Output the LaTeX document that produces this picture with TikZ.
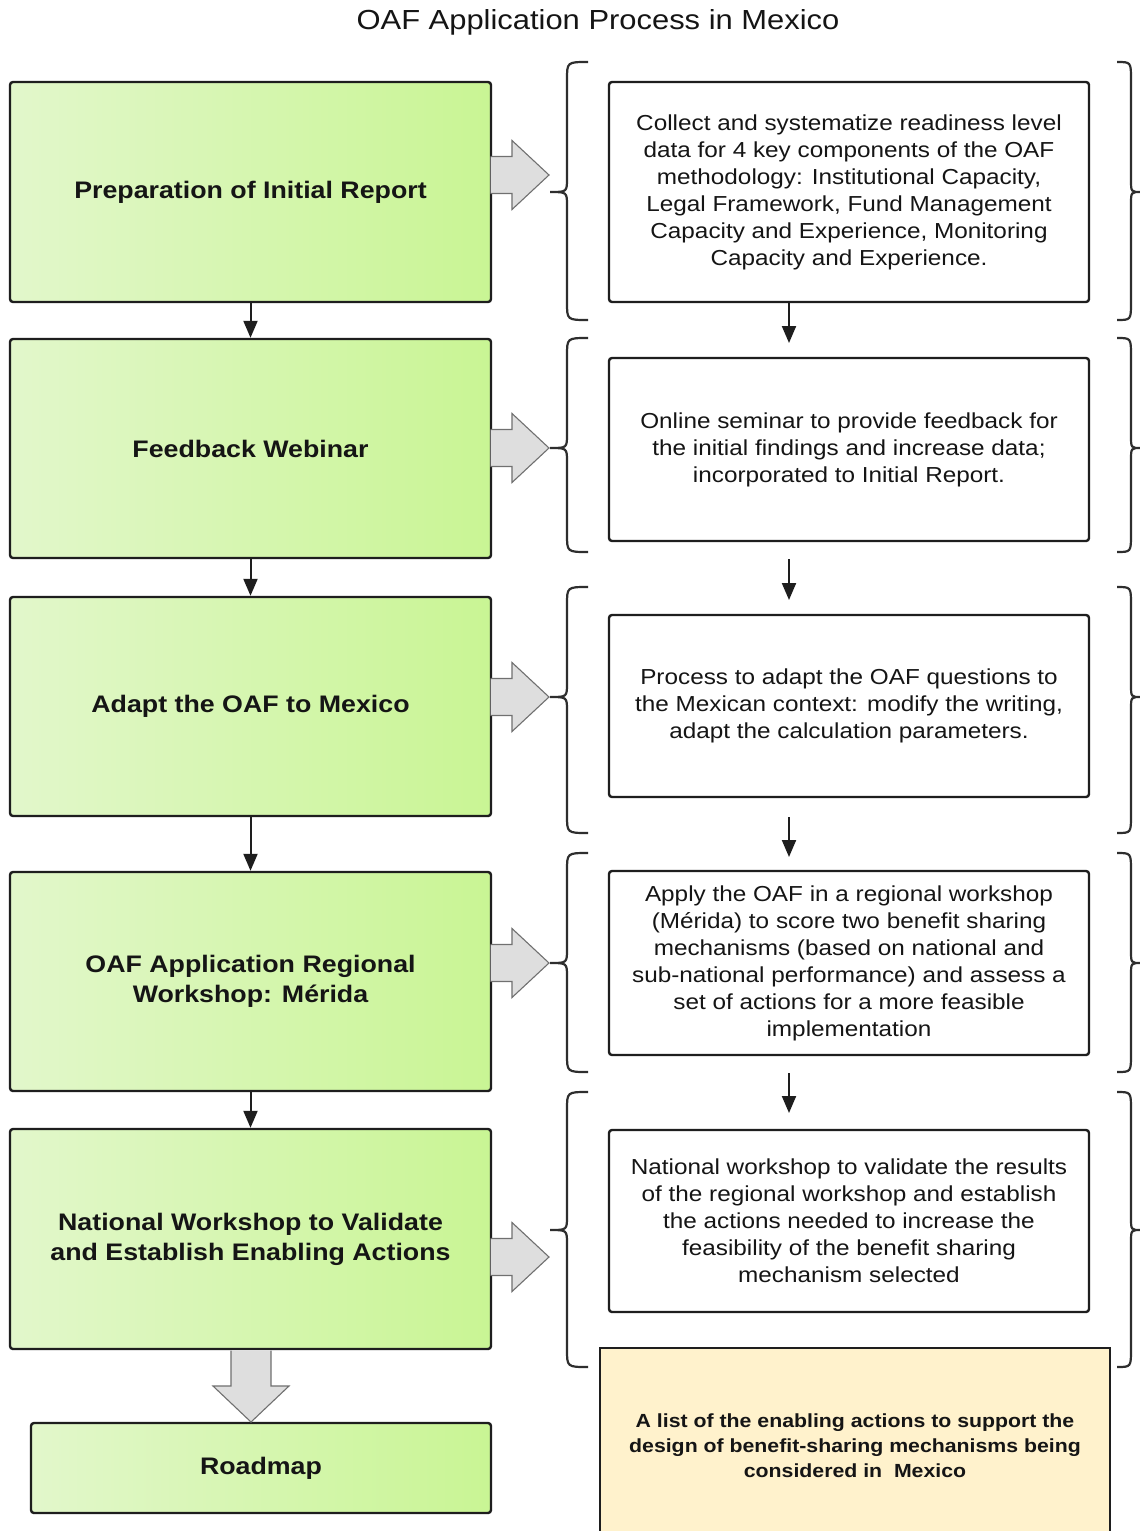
\documentclass[tikz,border=0pt]{standalone}
\usepackage{fontspec}
\setmainfont{Liberation Sans}[FakeStretch=1.12]
\usetikzlibrary{arrows.meta}
\definecolor{gL}{HTML}{E2F7CB}
\definecolor{gR}{HTML}{C9F594}
\definecolor{edge}{HTML}{1E1E1E}
\definecolor{txt}{HTML}{151515}
\definecolor{agray}{HTML}{DEDEDE}
\definecolor{astroke}{HTML}{707070}
\definecolor{ylw}{HTML}{FFF2CC}
\definecolor{brc}{HTML}{2E2E2E}
\begin{document}
\begin{tikzpicture}[x=1pt,y=-1pt,
  greenbox/.style={draw=edge, line width=2.4pt, rounded corners=3pt, left color=gL, right color=gR,
    font=\fontsize{23.9}{30}\selectfont\bfseries, align=center, text=txt, inner sep=0pt},
  whitebox/.style={draw=edge, line width=2.4pt, rounded corners=3pt, fill=white,
    font=\fontsize{21.7}{27}\selectfont, align=center, text=txt, inner sep=0pt, minimum width=480pt},
  ylwbox/.style={draw=edge, line width=1.6pt, fill=ylw,
    font=\fontsize{19}{25}\selectfont\bfseries, align=center, text=txt, inner sep=0pt},
  flow/.style={draw=edge, line width=2pt, -{Triangle[length=17pt,width=14pt]}},
  barrow/.style={draw=astroke, line width=1.1pt, fill=agray, line join=miter},
  brace/.style={draw=brc, line width=2.2pt}
]
\clip (0,0) rectangle (1140,1531);
\fill[white] (0,0) rectangle (1140,1531);

% title
\node[font=\fontsize{27.6}{32}\selectfont, text=txt] (title) at (598,22) {OAF Application Process in Mexico};

% braces
\foreach \ta/\tt/\tb in {62/192/320, 338/448/552, 587/697/833, 853/963/1072, 1092/1230/1367}{
  \draw[brace] (588,\ta) .. controls (567,\ta) .. (567,\ta+18) -- (567,\tt-14)
     .. controls (567,\tt) .. (550,\tt) .. controls (567,\tt) .. (567,\tt+14)
     -- (567,\tb-18) .. controls (567,\tb) .. (588,\tb);
  \draw[brace] (1117,\ta) .. controls (1131,\ta) .. (1131,\ta+18) -- (1131,\tt-12)
     .. controls (1131,\tt) .. (1141,\tt) .. controls (1131,\tt) .. (1131,\tt+12)
     -- (1131,\tb-18) .. controls (1131,\tb) .. (1117,\tb);
}

% left boxes
\node[greenbox, minimum width=481pt, minimum height=220pt] (L1) at (250.5,192) {Preparation of Initial Report};
\node[greenbox, minimum width=481pt, minimum height=219pt] (L2) at (250.5,448.5) {Feedback Webinar};
\node[greenbox, minimum width=481pt, minimum height=219pt] (L3) at (250.5,706.5) {Adapt the OAF to Mexico};
\node[greenbox, minimum width=481pt, minimum height=219pt] (L4) at (250.5,981.5) {OAF Application Regional\\Workshop: Mérida};
\node[greenbox, minimum width=481pt, minimum height=220pt] (L5) at (250.5,1239) {National Workshop to Validate\\and Establish Enabling Actions};
\node[greenbox, minimum width=460pt, minimum height=90pt] (RM) at (261,1468) {Roadmap};

% right boxes
\node[whitebox, minimum height=220pt] (R1) at (849,192) {Collect and systematize readiness level\\data for 4 key components of the OAF\\methodology: Institutional Capacity,\\Legal Framework, Fund Management\\Capacity and Experience, Monitoring\\Capacity and Experience.};
\node[whitebox, minimum height=183pt] (R2) at (849,449.5) {Online seminar to provide feedback for\\the initial findings and increase data;\\incorporated to Initial Report.};
\node[whitebox, minimum height=182pt] (R3) at (849,706) {Process to adapt the OAF questions to\\the Mexican context: modify the writing,\\adapt the calculation parameters.};
\node[whitebox, minimum height=184pt] (R4) at (849,963) {Apply the OAF in a regional workshop\\(Mérida) to score two benefit sharing\\mechanisms (based on national and\\sub-national performance) and assess a\\set of actions for a more feasible\\implementation};
\node[whitebox, minimum height=182pt] (R5) at (849,1221) {National workshop to validate the results\\of the regional workshop and establish\\the actions needed to increase the\\feasibility of the benefit sharing\\mechanism selected};

% yellow result box
\node[ylwbox, minimum width=510pt, minimum height=196pt] (Y) at (855,1446) {A list of the enabling actions to support the\\design of benefit-sharing mechanisms being\\considered in~~Mexico};

% left flow arrows
\draw[flow] (L1) -- (L2);
\draw[flow] (L2) -- (L3);
\draw[flow] (L3) -- (L4);
\draw[flow] (L4) -- (L5);

% right flow arrows
\coordinate (a1e) at (789,343);
\coordinate (a2s) at (789,559);
\coordinate (a2e) at (789,600);
\coordinate (a3s) at (789,817);
\coordinate (a3e) at (789,857);
\coordinate (a4s) at (789,1073);
\coordinate (a4e) at (789,1113);
\draw[flow] (R1.south -| a1e) -- (a1e);
\draw[flow] (a2s) -- (a2e);
\draw[flow] (a3s) -- (a3e);
\draw[flow] (a4s) -- (a4e);

% gray block arrows to braces
\foreach \t in {175, 448, 697, 963, 1257}{
  \draw[barrow] (490.5,\t-18.5) -- (512,\t-18.5) -- (512,\t-34.5) -- (549,\t)
     -- (512,\t+34.5) -- (512,\t+18.5) -- (490.5,\t+18.5);
}

% gray block arrow down to roadmap
\draw[barrow] (231,1350.5) -- (231,1386) -- (213,1386) -- (251,1422)
   -- (289,1386) -- (271,1386) -- (271,1350.5);
\end{tikzpicture}
\end{document}
